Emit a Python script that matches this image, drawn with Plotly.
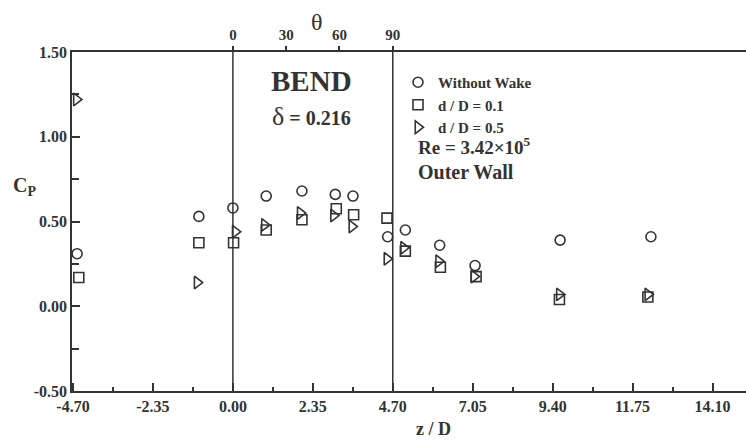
import plotly.graph_objects as go

# Wall pressure coefficient along the outer wall of the bend
z_nowake = [-4.58, -1.00, 0.00, 0.98, 2.03, 3.01, 3.53, 4.55, 5.07, 6.08, 7.12, 9.62, 12.29]
cp_nowake = [0.31, 0.53, 0.58, 0.65, 0.68, 0.66, 0.65, 0.41, 0.45, 0.36, 0.24, 0.39, 0.41]

z_d01 = [-4.53, -1.00, 0.02, 0.98, 2.03, 3.04, 3.55, 4.53, 5.07, 6.10, 7.15, 9.60, 12.20]
cp_d01 = [0.17, 0.375, 0.375, 0.45, 0.51, 0.575, 0.54, 0.52, 0.325, 0.23, 0.175, 0.04, 0.055]

z_d05 = [-4.60, -1.05, 0.07, 0.93, 1.98, 2.96, 3.50, 4.53, 5.02, 6.05, 7.09, 9.60, 12.20]
cp_d05 = [1.22, 0.14, 0.44, 0.48, 0.55, 0.535, 0.47, 0.28, 0.345, 0.265, 0.175, 0.07, 0.07]

x_ticks = [-4.70, -2.35, 0.00, 2.35, 4.70, 7.05, 9.40, 11.75, 14.10]
x_ticktext = ["-4.70", "-2.35", "0.00", "2.35", "4.70", "7.05", "9.40", "11.75", "14.10"]
y_ticks = [-0.50, 0.00, 0.50, 1.00, 1.50]
y_ticktext = ["-0.50", "0.00", "0.50", "1.00", "1.50"]
theta_ticks = [0, 30, 60, 90]
bend_edges = [0.00, 4.70]  # bend entry / exit (theta = 0 and 90 deg)

INK = "#333333"
SERIF = "Liberation Serif"
W, H = 746, 441
L, T, B = 72, 52, 50
X_RANGE = [-4.73, 15.085]
Y_RANGE = [-0.50, 1.50]
THETA_PER_Z = 90.0 / 4.70


def px(xp, yp):
    """Convert page pixels to paper fractions of the plot area."""
    return (xp - L) / (W - L), (H - B - yp) / (H - T - B)


fig = go.Figure()

series = [
    ("Without Wake", z_nowake, cp_nowake, "circle-open", 10),
    ("d / D = 0.1", z_d01, cp_d01, "square-open", 10),
    ("d / D = 0.5", z_d05, cp_d05, "triangle-right-open", 11),
]
for name, zs, cps, sym, size in series:
    fig.add_trace(go.Scatter(
        x=zs, y=cps, mode="markers", name=name,
        marker=dict(symbol=sym, size=size, color=INK, line=dict(width=1.6, color=INK)),
    ))

# invisible trace so the theta axis along the top is drawn
fig.add_trace(go.Scatter(x=[None], y=[None], xaxis="x2", showlegend=False, hoverinfo="skip"))

for ze in bend_edges:
    fig.add_shape(type="line", xref="x", yref="paper", x0=ze, x1=ze, y0=0, y1=1,
                  line=dict(color=INK, width=1.5))

tick_font = dict(family=SERIF, size=16, color=INK, weight="bold")

fig.update_layout(
    width=W, height=H,
    margin=dict(l=L, r=0, t=T, b=B),
    paper_bgcolor="white", plot_bgcolor="white",
    showlegend=True,
    legend=dict(
        x=px(398, 0)[0], y=px(0, 66)[1], xanchor="left", yanchor="top",
        bgcolor="rgba(0,0,0,0)", borderwidth=0,
        font=dict(family=SERIF, size=15, color=INK, weight="bold"),
        tracegroupgap=0, itemwidth=30,
    ),
    xaxis=dict(
        range=X_RANGE, tickmode="array", tickvals=x_ticks, ticktext=x_ticktext,
        ticks="inside", ticklen=8, tickwidth=1.5, tickcolor=INK,
        minor=dict(tickmode="linear", tick0=0, dtick=1.175, ticks="inside", ticklen=4, tickcolor=INK),
        showline=True, linecolor=INK, linewidth=1.5,
        showgrid=False, zeroline=False, tickfont=tick_font,
    ),
    xaxis2=dict(
        overlaying="x", side="top", anchor="y",
        range=[X_RANGE[0] * THETA_PER_Z, X_RANGE[1] * THETA_PER_Z],
        tickmode="array", tickvals=theta_ticks, ticktext=[str(t) for t in theta_ticks],
        ticks="outside", ticklen=4, tickwidth=1.5, tickcolor=INK,
        showline=True, linecolor=INK, linewidth=1.5,
        showgrid=False, zeroline=False,
        tickfont=dict(family=SERIF, size=15, color=INK, weight="bold"),
    ),
    yaxis=dict(
        range=Y_RANGE, tickmode="array", tickvals=y_ticks, ticktext=y_ticktext,
        ticks="inside", ticklen=8, tickwidth=1.5, tickcolor=INK,
        minor=dict(tickmode="linear", tick0=0, dtick=0.25, ticks="inside", ticklen=7, tickcolor=INK),
        showline=True, linecolor=INK, linewidth=1.5,
        showgrid=False, zeroline=False, tickfont=tick_font,
    ),
)


def note(text, xp, yp, size, xanchor="center", bold=True, family=SERIF):
    xx, yy = px(xp, yp)
    fig.add_annotation(
        text=text, x=xx, y=yy, xref="paper", yref="paper",
        xanchor=xanchor, yanchor="middle", showarrow=False,
        font=dict(family=family, size=size, color=INK, weight="bold" if bold else "normal"),
    )


note("θ", 317, 22, 24, bold=False)
note("BEND", 311, 81, 29)
note("<span style='font-weight:normal;font-size:26px'>δ</span> = 0.216", 311, 116, 20)
note("Re = 3.42×10<sup>5</sup>", 416, 146, 19, xanchor="left")
note("Outer Wall", 416, 172, 20, xanchor="left")
note("C<sub>P</sub>", 24, 187, 20)
note("z / D", 433, 429, 18)

fig.write_html("out.html")
